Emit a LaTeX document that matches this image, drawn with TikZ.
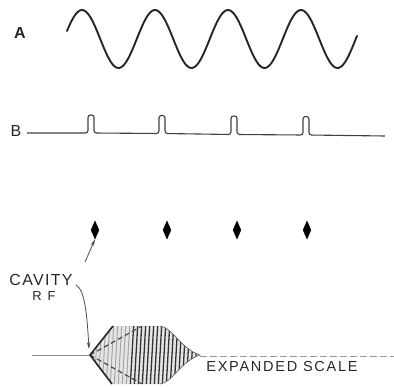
\documentclass[tikz,border=0pt]{standalone}
\usepackage{fontspec}
\setmainfont{Liberation Sans}
\newfontfamily\cavfont[LetterSpace=8]{Liberation Sans}
\newfontfamily\rffont[LetterSpace=45]{Liberation Sans}
\newfontfamily\expfont[LetterSpace=12]{Liberation Sans}
\usetikzlibrary{shapes.geometric,arrows.meta}
\tikzset{
  wave/.style={line width=1.9pt, draw=black!85, line join=round, line cap=round},
  pulseline/.style={line width=1.1pt, draw=black!75, rounded corners=2.5pt},
  blip/.style={diamond, fill=black, draw=black, inner sep=0pt, aspect=0.45,
               minimum width=8pt, minimum height=18pt},
  pointer/.style={line width=0.8pt, draw=black!70,
                  -{Stealth[length=7pt,width=3.5pt]}},
  lbl/.style={inner sep=0pt, text=black!85},
  hatch/.style={line width=1.3pt, draw=black!80},
  lighthatch/.style={line width=1pt, draw=black!35},
}
\begin{document}
\begin{tikzpicture}[x=1pt,y=-1pt]
\useasboundingbox (0,0) rectangle (394,386);

% trace A
\node[lbl, font=\fontsize{16}{18}\selectfont\bfseries] (labA) at (20,33) {A};
\draw[wave] plot[domain=67:357, samples=160, variable=\t]
  ({\t}, {39 - 29*cos((\t-82)/73*360)});

% trace B
\node[lbl, font=\fontsize{16}{18}\selectfont] (labB) at (16,131) {B};
\draw[pulseline] (27,133) -- (88,133) -- (88,115) -- (94,115) -- (94,133)
  -- (159,133.5) -- (159,115.5) -- (165,115.5) -- (165,133.5)
  -- (231,134.5) -- (231,116) -- (237,116) -- (237,134.5)
  -- (303,135) -- (303,116.5) -- (309,116.5) -- (309,135) -- (385,136);

% blips
\node[blip] (b1) at (95,230) {};
\node[blip] (b2) at (167,230) {};
\node[blip] (b3) at (237,230) {};
\node[blip] (b4) at (307,230) {};

% cavity RF label
\node[lbl, font=\fontsize{16}{18}\selectfont\cavfont] (cav) at (41,280) {CAVITY};
\node[lbl, font=\fontsize{13}{15}\selectfont\rffont] (rf) at (44,296) {RF};
\coordinate (astart) at (85,262);
\draw[pointer] (astart) -- (b1.south);

% expanded envelope
\coordinate (apex) at (90,355);
\coordinate (cs) at (76,285);
\draw[line width=1pt, draw=black!45] (32,355) -- (apex);
\draw[line width=0.9pt, draw=black!40, dash pattern=on 7pt off 3pt] (200,356) -- (394,356);
\def\envpath{(apex) -- (113,326) -- (160,326) .. controls (172,327) and (181,349) .. (200,355)
   .. controls (181,361) and (172,383) .. (160,384) -- (112,384) -- cycle}
\fill[black!10] \envpath;
\begin{scope}
  \clip \envpath;
  \foreach \x in {96,100,...,128} \draw[lighthatch] (\x+2,320) -- (\x-2,390);
  \foreach \x in {132,136,...,200} \draw[hatch] (\x+2,320) -- (\x-2,390);
  \draw[line width=1.2pt, draw=black!70, dash pattern=on 5pt off 3pt] (apex) -- (142,326);
  \draw[line width=1.2pt, draw=black!70, dash pattern=on 5pt off 3pt] (apex) -- (142,384);
\end{scope}
\draw[line width=1.6pt, draw=black!85] (113,326) -- (apex) -- (112,384);
\draw[line width=0.7pt, draw=black!60] (160,326) .. controls (172,327) and (181,349) .. (200,355)
   .. controls (181,361) and (172,383) .. (160,384);
\draw[pointer] (cs) .. controls (85,290) and (87,315) .. (89,349);

\node[lbl, font=\fontsize{14.5}{16}\selectfont\expfont] (exp) at (282,367) {EXPANDED SCALE};
\end{tikzpicture}
\end{document}
